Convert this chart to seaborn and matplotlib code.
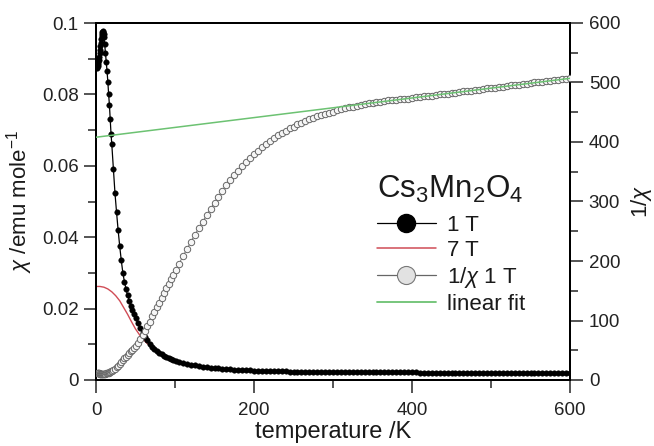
import matplotlib
matplotlib.use("Agg")
import matplotlib.pyplot as plt
import seaborn as sns
from matplotlib.ticker import MultipleLocator, FuncFormatter
from matplotlib.lines import Line2D

# ---------------- data ----------------
temp_1T = [1.8, 2, 2.5, 3, 3.5, 4, 4.5, 5, 5.5, 6, 6.5, 7, 7.5, 8, 8.5, 9, 9.5, 10,
           11, 12, 13, 14, 15, 16, 17, 18, 19, 20,
           22, 24, 26, 28, 30, 32, 34, 36, 38, 40, 42, 44, 46, 48, 50,
           53, 56, 59, 62, 65, 68, 71, 74, 77, 80, 83, 86, 89, 92, 95, 98, 101,
           105, 110, 115, 120, 125, 130, 135, 140, 145, 150,
           155, 160, 165, 170, 175, 180, 185, 190, 195, 200,
           205, 210, 215, 220, 225, 230, 235, 240, 245, 250,
           255, 260, 265, 270, 275, 280, 285, 290, 295, 300,
           305, 310, 315, 320, 325, 330, 335, 340, 345, 350,
           355, 360, 365, 370, 375, 380, 385, 390, 395, 400,
           405, 410, 415, 420, 425, 430, 435, 440, 445, 450,
           455, 460, 465, 470, 475, 480, 485, 490, 495, 500,
           505, 510, 515, 520, 525, 530, 535, 540, 545, 550,
           555, 560, 565, 570, 575, 580, 585, 590, 595, 600]

chi_1T = [0.0875, 0.0880, 0.0885, 0.0890, 0.0897, 0.0905, 0.0915, 0.0925, 0.0935,
          0.0945, 0.0955, 0.0963, 0.0970, 0.0975, 0.0977, 0.0975, 0.0970, 0.0960,
          0.0940, 0.0915, 0.0890, 0.0865, 0.0835, 0.0800, 0.0770, 0.0730, 0.0690, 0.0660,
          0.0590, 0.0524, 0.0470, 0.0420, 0.0375, 0.0335, 0.0300, 0.0275, 0.0255,
          0.0237, 0.0222, 0.0208, 0.0196, 0.0185, 0.0174,
          0.0160, 0.0146, 0.0133, 0.0121, 0.0111, 0.0102, 0.0093, 0.0087, 0.0082,
          0.0077, 0.0072, 0.0068, 0.0064, 0.0062, 0.0059, 0.0056, 0.0054,
          0.00513, 0.00481, 0.00455, 0.00431, 0.00410, 0.00392, 0.00376, 0.00361, 0.00347, 0.00336,
          0.00325, 0.00314, 0.00306, 0.00298, 0.00291, 0.00284, 0.00279, 0.00273, 0.00268, 0.00264,
          0.00260, 0.00256, 0.00253, 0.00249, 0.00246, 0.00243, 0.00241, 0.00239, 0.00236, 0.00235,
          0.00233, 0.00231, 0.00230, 0.00228, 0.00227, 0.00226, 0.00225, 0.00224, 0.00223, 0.00222,
          0.00221, 0.00220, 0.00219, 0.00218, 0.00218, 0.00217, 0.00216, 0.00216, 0.00215, 0.00215,
          0.00214, 0.00214, 0.00213, 0.00213, 0.00213, 0.00212, 0.00212, 0.00212, 0.00211, 0.00211,
          0.00211, 0.00210, 0.00210, 0.00210, 0.00209, 0.00209, 0.00208, 0.00208, 0.00208, 0.00207,
          0.00207, 0.00207, 0.00206, 0.00206, 0.00206, 0.00205, 0.00205, 0.00204, 0.00204, 0.00204,
          0.00203, 0.00203, 0.00203, 0.00202, 0.00202, 0.00202, 0.00201, 0.00201, 0.00201, 0.00200,
          0.00200, 0.00200, 0.00199, 0.00199, 0.00199, 0.00198, 0.00198, 0.00198, 0.00197, 0.00197]

inv_chi_1T = [11.4, 11.4, 11.3, 11.2, 11.15, 11.05, 10.9, 10.8, 10.7, 10.6, 10.5, 10.4,
              10.3, 10.25, 10.2, 10.25, 10.3, 10.4,
              10.6, 10.9, 11.2, 11.6, 12.0, 12.5, 13.0, 13.7, 14.5, 15.2,
              16.9, 19.1, 21.3, 23.8, 26.7, 29.9, 33.3, 36.4, 39.2, 42.2, 45.0, 48.1,
              51.0, 54.1, 57.5,
              62.5, 68.5, 75.2, 82.6, 90.1, 98.0, 107.5, 115.0, 122.0, 130.0, 138.5,
              147.0, 155.0, 162.0, 169.5, 177.0, 185.0,
              195, 208, 220, 232, 244, 255, 266, 277, 288, 298,
              308, 318, 327, 336, 344, 352, 359, 366, 373, 379,
              385, 391, 396, 401, 406, 411, 415, 419, 423, 426,
              429.5, 432.5, 435.5, 438, 440.5, 443, 445, 447, 449, 451,
              453, 455, 456.5, 458, 459.5, 461, 462.5, 464, 465, 466,
              467, 468, 469, 470, 470, 471, 471.5, 472.5, 473, 474,
              475, 475.5, 476.5, 477, 478, 479, 480, 480.5, 481.5, 482,
              483, 484, 485, 485.5, 486.5, 487, 488, 489, 490, 490.5,
              491.5, 492, 493, 494, 495, 495.5, 496.5, 497, 498, 499,
              500, 500.5, 501.5, 502, 503, 504, 505, 505.5, 506.5, 507]

temp_7T = [0, 5, 10, 15, 20, 25, 30, 35, 40, 45, 50, 55, 60, 65, 70, 75, 80, 90, 100,
           120, 150, 200, 250, 300, 400, 500, 600]
chi_7T = [0.0262, 0.0262, 0.0260, 0.0255, 0.0247, 0.0236, 0.0222, 0.0203, 0.0184,
          0.0163, 0.0143, 0.0127, 0.0113, 0.0102, 0.0093, 0.0085, 0.0077, 0.0064,
          0.0054, 0.0042, 0.0033, 0.0026, 0.0023, 0.0022, 0.0021, 0.0020, 0.00195]

fit_T = [0, 600]
fit_inv = [408, 507]

legend_title = r"Cs$_3$Mn$_2$O$_4$"
legend_labels = ["1 T", "7 T", r"1/$\chi$ 1 T", "linear fit"]

assert len(temp_1T) == len(chi_1T) == len(inv_chi_1T)

# ---------------- style ----------------
sns.set_style("ticks")
plt.rcParams["font.family"] = ["Liberation Sans", "DejaVu Sans"]
plt.rcParams["mathtext.fontset"] = "custom"
plt.rcParams["mathtext.rm"] = "Liberation Sans"
plt.rcParams["mathtext.it"] = "Liberation Sans:italic"
plt.rcParams["mathtext.bf"] = "Liberation Sans:bold"
plt.rcParams["text.color"] = "#1a1a1a"
plt.rcParams["axes.labelcolor"] = "#1a1a1a"

RED = "#d04c56"
GREEN = "#6cc272"
GREY = "#666666"

fig = plt.figure(figsize=(6.54, 4.46), dpi=100)
ax = fig.add_axes([96 / 654, 1 - 380 / 446, 474 / 654, 357 / 446])
ax2 = ax.twinx()

sns.lineplot(x=temp_7T, y=chi_7T, ax=ax, color=RED, linewidth=1.0,
             estimator=None, sort=False, zorder=2)
sns.lineplot(x=temp_1T, y=chi_1T, ax=ax, color="black", linewidth=0.9,
             marker="o", markersize=4.0, markerfacecolor="black",
             markeredgecolor="black", markeredgewidth=0.3,
             estimator=None, sort=False, zorder=3)
sns.lineplot(x=temp_1T, y=inv_chi_1T, ax=ax2, color=GREY, linewidth=0.6,
             marker="o", markersize=4.6, markerfacecolor="#f6f6f6",
             markeredgecolor=GREY, markeredgewidth=0.7,
             estimator=None, sort=False, zorder=3)
sns.lineplot(x=fit_T, y=fit_inv, ax=ax2, color=GREEN, linewidth=1.1,
             estimator=None, sort=False, zorder=4)

ax.set_xlim(0, 600)
ax.set_ylim(0, 0.1)
ax2.set_ylim(0, 600)

ax.xaxis.set_major_locator(MultipleLocator(200))
ax.xaxis.set_minor_locator(MultipleLocator(100))
ax.yaxis.set_major_locator(MultipleLocator(0.02))
ax.yaxis.set_minor_locator(MultipleLocator(0.01))
ax.yaxis.set_major_formatter(FuncFormatter(lambda v, p: f"{v:g}"))
ax2.yaxis.set_major_locator(MultipleLocator(100))
ax2.yaxis.set_minor_locator(MultipleLocator(50))

for a in (ax, ax2):
    for s in a.spines.values():
        s.set_linewidth(1.4)
        s.set_color("black")

ax.tick_params(axis="both", which="major", direction="out", length=9, width=1.1,
               labelsize=13.5, labelcolor="#222222")
ax.tick_params(axis="both", which="minor", direction="out", length=6, width=1.1)
ax.tick_params(axis="y", which="major", pad=3.5)
ax.tick_params(axis="x", which="major", pad=7)
ax2.tick_params(axis="y", which="major", direction="out", length=9, width=1.1,
                labelsize=13.5, labelcolor="#222222", pad=4.5)
ax2.tick_params(axis="y", which="minor", direction="out", length=6, width=1.1)

ax.set_xlabel("temperature /K", fontsize=17, labelpad=1)
ax.set_ylabel(r"$\chi$ /emu mole$^{-1}$", fontsize=16, labelpad=5)
ax2.set_ylabel(r"1/$\chi$", fontsize=16, labelpad=6)

handles = [
    Line2D([], [], color="black", linewidth=0.9, marker="o", markersize=13,
           markerfacecolor="black", markeredgecolor="black"),
    Line2D([], [], color=RED, linewidth=1.1),
    Line2D([], [], color=GREY, linewidth=0.9, marker="o", markersize=13,
           markerfacecolor="#e2e2e2", markeredgecolor="#777777", markeredgewidth=0.8),
    Line2D([], [], color=GREEN, linewidth=1.3),
]
leg = ax2.legend(handles, legend_labels, title=legend_title, title_fontsize=22.5,
                 fontsize=16, frameon=False, loc="upper left",
                 bbox_to_anchor=(377 / 654, 1 - 174 / 446),
                 bbox_transform=fig.transFigure, borderpad=0, borderaxespad=0,
                 handlelength=2.65, handletextpad=0.5, labelspacing=0.18,
                 alignment="left")
leg._legend_box.sep = 7.0

fig.savefig("out.png", dpi=100)
